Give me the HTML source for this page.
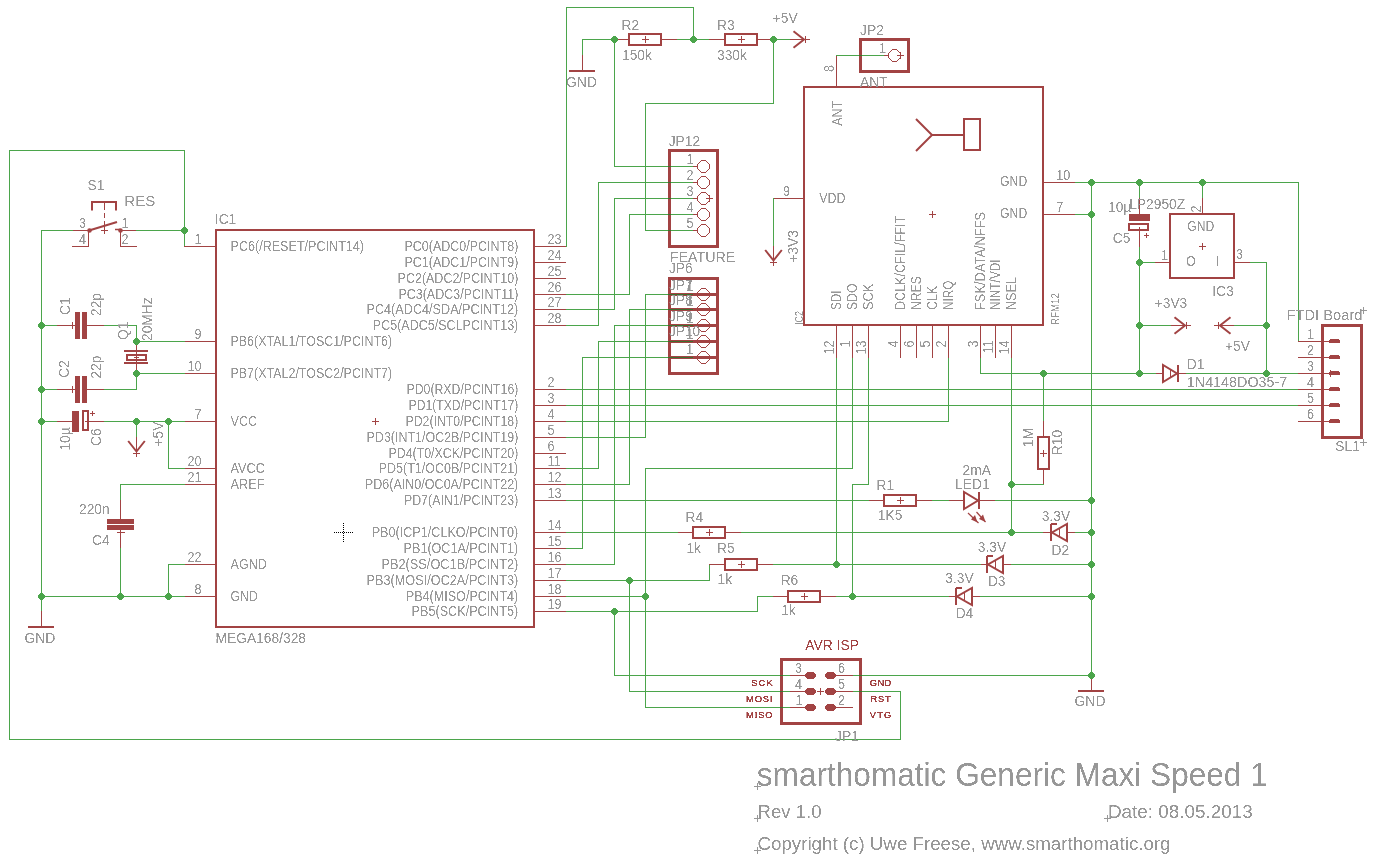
<!DOCTYPE html>
<html><head><meta charset="utf-8"><title>smarthomatic Generic Maxi Speed 1</title>
<style>
html,body{margin:0;padding:0;background:#fff;overflow:hidden;}
svg{display:block;}
text{font-family:"Liberation Sans",sans-serif;}
</style></head><body>
<svg width="1375" height="863" viewBox="0 0 1375 863">
<rect width="1375" height="863" fill="#fff"/>
<g shape-rendering="crispEdges">
<rect x="184" y="150" width="1" height="97" fill="#4ba54b"/>
<rect x="9" y="150" width="176" height="1" fill="#4ba54b"/>
<rect x="9" y="150" width="1" height="590" fill="#4ba54b"/>
<rect x="9" y="739" width="892" height="1" fill="#4ba54b"/>
<rect x="900" y="691" width="1" height="49" fill="#4ba54b"/>
<rect x="852" y="691" width="49" height="1" fill="#4ba54b"/>
<rect x="41" y="230" width="1" height="367" fill="#4ba54b"/>
<rect x="41" y="230" width="33" height="1" fill="#4ba54b"/>
<rect x="73" y="230" width="17" height="1" fill="#a24343"/>
<rect x="88" y="230" width="1" height="17" fill="#a24343"/>
<rect x="72" y="246" width="17" height="1" fill="#a24343"/>
<rect x="120" y="230" width="17" height="1" fill="#a24343"/>
<rect x="120" y="230" width="1" height="17" fill="#a24343"/>
<rect x="120" y="246" width="17" height="1" fill="#a24343"/>
<rect x="136" y="230" width="49" height="1" fill="#4ba54b"/>
<rect x="101" y="230" width="7" height="1" fill="#a24343"/>
<rect x="104" y="227" width="1" height="7" fill="#a24343"/>
<rect x="216" y="230" width="318" height="397" fill="none" stroke="#a24343" stroke-width="2"/>
<rect x="372" y="421" width="7" height="1" fill="#a24343"/>
<rect x="375" y="418" width="1" height="7" fill="#a24343"/>
<rect x="184" y="246" width="31" height="1" fill="#a24343"/>
<rect x="184" y="341" width="31" height="1" fill="#a24343"/>
<rect x="184" y="373" width="31" height="1" fill="#a24343"/>
<rect x="184" y="421" width="31" height="1" fill="#a24343"/>
<rect x="184" y="468" width="31" height="1" fill="#a24343"/>
<rect x="184" y="484" width="31" height="1" fill="#a24343"/>
<rect x="184" y="564" width="31" height="1" fill="#a24343"/>
<rect x="184" y="596" width="31" height="1" fill="#a24343"/>
<rect x="535" y="246" width="31" height="1" fill="#a24343"/>
<rect x="535" y="262" width="31" height="1" fill="#a24343"/>
<rect x="535" y="278" width="31" height="1" fill="#a24343"/>
<rect x="535" y="294" width="31" height="1" fill="#a24343"/>
<rect x="535" y="309" width="31" height="1" fill="#a24343"/>
<rect x="535" y="325" width="31" height="1" fill="#a24343"/>
<rect x="535" y="389" width="31" height="1" fill="#a24343"/>
<rect x="535" y="405" width="31" height="1" fill="#a24343"/>
<rect x="535" y="421" width="31" height="1" fill="#a24343"/>
<rect x="535" y="437" width="31" height="1" fill="#a24343"/>
<rect x="535" y="453" width="31" height="1" fill="#a24343"/>
<rect x="535" y="468" width="31" height="1" fill="#a24343"/>
<rect x="535" y="484" width="31" height="1" fill="#a24343"/>
<rect x="535" y="500" width="31" height="1" fill="#a24343"/>
<rect x="535" y="532" width="31" height="1" fill="#a24343"/>
<rect x="535" y="548" width="31" height="1" fill="#a24343"/>
<rect x="535" y="564" width="31" height="1" fill="#a24343"/>
<rect x="535" y="580" width="31" height="1" fill="#a24343"/>
<rect x="535" y="596" width="31" height="1" fill="#a24343"/>
<rect x="535" y="611" width="31" height="1" fill="#a24343"/>
<rect x="41" y="325" width="17" height="1" fill="#4ba54b"/>
<rect x="57" y="325" width="18" height="1" fill="#a24343"/>
<rect x="75" y="312" width="5" height="27" fill="#a24343"/>
<rect x="82" y="312" width="5" height="27" fill="#a24343"/>
<rect x="72" y="322" width="1" height="7" fill="#a24343"/>
<rect x="87" y="325" width="18" height="1" fill="#a24343"/>
<rect x="104" y="325" width="33" height="1" fill="#4ba54b"/>
<rect x="136" y="325" width="1" height="17" fill="#4ba54b"/>
<rect x="136" y="341" width="49" height="1" fill="#4ba54b"/>
<rect x="136" y="341" width="1" height="33" fill="#a24343"/>
<rect x="124" y="350" width="24" height="2" fill="#a24343"/>
<rect x="124" y="362" width="24" height="2" fill="#a24343"/>
<rect x="127" y="355" width="19" height="5" fill="none" stroke="#a24343" stroke-width="2"/>
<rect x="134" y="357" width="5" height="1" fill="#a24343"/>
<rect x="136" y="355" width="1" height="5" fill="#a24343"/>
<rect x="136" y="373" width="49" height="1" fill="#4ba54b"/>
<rect x="41" y="389" width="17" height="1" fill="#4ba54b"/>
<rect x="57" y="389" width="18" height="1" fill="#a24343"/>
<rect x="75" y="376" width="5" height="27" fill="#a24343"/>
<rect x="82" y="376" width="5" height="27" fill="#a24343"/>
<rect x="72" y="386" width="1" height="7" fill="#a24343"/>
<rect x="87" y="389" width="18" height="1" fill="#a24343"/>
<rect x="104" y="389" width="33" height="1" fill="#4ba54b"/>
<rect x="136" y="373" width="1" height="17" fill="#4ba54b"/>
<rect x="41" y="421" width="17" height="1" fill="#4ba54b"/>
<rect x="57" y="421" width="15" height="1" fill="#a24343"/>
<rect x="72" y="411" width="7" height="21" fill="#a24343"/>
<rect x="83" y="411" width="5" height="19" fill="none" stroke="#a24343" stroke-width="2"/>
<rect x="85" y="421" width="20" height="1" fill="#a24343"/>
<rect x="90" y="413" width="5" height="1" fill="#a24343"/>
<rect x="92" y="411" width="1" height="5" fill="#a24343"/>
<rect x="104" y="421" width="81" height="1" fill="#4ba54b"/>
<rect x="136" y="421" width="1" height="16" fill="#4ba54b"/>
<rect x="136" y="437" width="1" height="20" fill="#a24343"/>
<rect x="133" y="453" width="7" height="1" fill="#a24343"/>
<rect x="168" y="421" width="1" height="48" fill="#4ba54b"/>
<rect x="168" y="468" width="17" height="1" fill="#4ba54b"/>
<rect x="120" y="484" width="65" height="1" fill="#4ba54b"/>
<rect x="120" y="484" width="1" height="17" fill="#4ba54b"/>
<rect x="120" y="500" width="1" height="19" fill="#a24343"/>
<rect x="107" y="519" width="27" height="5" fill="#a24343"/>
<rect x="107" y="525" width="27" height="5" fill="#a24343"/>
<rect x="120" y="530" width="1" height="18" fill="#a24343"/>
<rect x="117" y="532" width="8" height="1" fill="#a24343"/>
<rect x="120" y="548" width="1" height="49" fill="#4ba54b"/>
<rect x="168" y="564" width="17" height="1" fill="#4ba54b"/>
<rect x="168" y="564" width="1" height="33" fill="#4ba54b"/>
<rect x="41" y="596" width="144" height="1" fill="#4ba54b"/>
<rect x="41" y="596" width="1" height="16" fill="#4ba54b"/>
<rect x="41" y="611" width="1" height="17" fill="#a24343"/>
<rect x="28" y="626" width="26" height="2" fill="#a24343"/>
<rect x="566" y="7" width="1" height="240" fill="#4ba54b"/>
<rect x="566" y="7" width="128" height="1" fill="#4ba54b"/>
<rect x="693" y="7" width="1" height="33" fill="#4ba54b"/>
<rect x="582" y="39" width="1" height="17" fill="#4ba54b"/>
<rect x="582" y="39" width="33" height="1" fill="#4ba54b"/>
<rect x="582" y="55" width="1" height="17" fill="#a24343"/>
<rect x="569" y="70" width="26" height="2" fill="#a24343"/>
<rect x="614" y="39" width="15" height="1" fill="#a24343"/>
<rect x="629" y="34" width="32" height="11" fill="none" stroke="#a24343" stroke-width="2"/>
<rect x="642" y="39" width="7" height="1" fill="#a24343"/>
<rect x="645" y="36" width="1" height="7" fill="#a24343"/>
<rect x="662" y="39" width="16" height="1" fill="#a24343"/>
<rect x="677" y="39" width="33" height="1" fill="#4ba54b"/>
<rect x="709" y="39" width="16" height="1" fill="#a24343"/>
<rect x="725" y="34" width="32" height="11" fill="none" stroke="#a24343" stroke-width="2"/>
<rect x="738" y="39" width="7" height="1" fill="#a24343"/>
<rect x="741" y="36" width="1" height="7" fill="#a24343"/>
<rect x="758" y="39" width="16" height="1" fill="#a24343"/>
<rect x="773" y="39" width="17" height="1" fill="#4ba54b"/>
<rect x="790" y="39" width="20" height="1" fill="#a24343"/>
<rect x="805" y="36" width="1" height="7" fill="#a24343"/>
<rect x="773" y="39" width="1" height="65" fill="#4ba54b"/>
<rect x="645" y="103" width="129" height="1" fill="#4ba54b"/>
<rect x="645" y="103" width="1" height="128" fill="#4ba54b"/>
<rect x="645" y="230" width="48" height="1" fill="#4ba54b"/>
<rect x="614" y="39" width="1" height="128" fill="#4ba54b"/>
<rect x="614" y="166" width="79" height="1" fill="#4ba54b"/>
<rect x="669.5" y="150.5" width="48" height="96" fill="none" stroke="#a24343" stroke-width="3"/>
<rect x="693" y="166" width="4" height="1" fill="#a24343"/>
<rect x="701" y="160" width="5" height="1" fill="#a24343"/>
<rect x="701" y="172" width="5" height="1" fill="#a24343"/>
<rect x="697" y="164" width="1" height="5" fill="#a24343"/>
<rect x="709" y="164" width="1" height="5" fill="#a24343"/>
<rect x="700" y="161" width="1" height="1" fill="#a24343"/>
<rect x="700" y="171" width="1" height="1" fill="#a24343"/>
<rect x="706" y="161" width="1" height="1" fill="#a24343"/>
<rect x="706" y="171" width="1" height="1" fill="#a24343"/>
<rect x="699" y="162" width="1" height="1" fill="#a24343"/>
<rect x="699" y="170" width="1" height="1" fill="#a24343"/>
<rect x="707" y="162" width="1" height="1" fill="#a24343"/>
<rect x="707" y="170" width="1" height="1" fill="#a24343"/>
<rect x="698" y="163" width="1" height="1" fill="#a24343"/>
<rect x="698" y="169" width="1" height="1" fill="#a24343"/>
<rect x="708" y="163" width="1" height="1" fill="#a24343"/>
<rect x="708" y="169" width="1" height="1" fill="#a24343"/>
<rect x="693" y="182" width="4" height="1" fill="#a24343"/>
<rect x="701" y="176" width="5" height="1" fill="#a24343"/>
<rect x="701" y="188" width="5" height="1" fill="#a24343"/>
<rect x="697" y="180" width="1" height="5" fill="#a24343"/>
<rect x="709" y="180" width="1" height="5" fill="#a24343"/>
<rect x="700" y="177" width="1" height="1" fill="#a24343"/>
<rect x="700" y="187" width="1" height="1" fill="#a24343"/>
<rect x="706" y="177" width="1" height="1" fill="#a24343"/>
<rect x="706" y="187" width="1" height="1" fill="#a24343"/>
<rect x="699" y="178" width="1" height="1" fill="#a24343"/>
<rect x="699" y="186" width="1" height="1" fill="#a24343"/>
<rect x="707" y="178" width="1" height="1" fill="#a24343"/>
<rect x="707" y="186" width="1" height="1" fill="#a24343"/>
<rect x="698" y="179" width="1" height="1" fill="#a24343"/>
<rect x="698" y="185" width="1" height="1" fill="#a24343"/>
<rect x="708" y="179" width="1" height="1" fill="#a24343"/>
<rect x="708" y="185" width="1" height="1" fill="#a24343"/>
<rect x="693" y="198" width="4" height="1" fill="#a24343"/>
<rect x="701" y="192" width="5" height="1" fill="#a24343"/>
<rect x="701" y="204" width="5" height="1" fill="#a24343"/>
<rect x="697" y="196" width="1" height="5" fill="#a24343"/>
<rect x="709" y="196" width="1" height="5" fill="#a24343"/>
<rect x="700" y="193" width="1" height="1" fill="#a24343"/>
<rect x="700" y="203" width="1" height="1" fill="#a24343"/>
<rect x="706" y="193" width="1" height="1" fill="#a24343"/>
<rect x="706" y="203" width="1" height="1" fill="#a24343"/>
<rect x="699" y="194" width="1" height="1" fill="#a24343"/>
<rect x="699" y="202" width="1" height="1" fill="#a24343"/>
<rect x="707" y="194" width="1" height="1" fill="#a24343"/>
<rect x="707" y="202" width="1" height="1" fill="#a24343"/>
<rect x="698" y="195" width="1" height="1" fill="#a24343"/>
<rect x="698" y="201" width="1" height="1" fill="#a24343"/>
<rect x="708" y="195" width="1" height="1" fill="#a24343"/>
<rect x="708" y="201" width="1" height="1" fill="#a24343"/>
<rect x="693" y="214" width="4" height="1" fill="#a24343"/>
<rect x="701" y="208" width="5" height="1" fill="#a24343"/>
<rect x="701" y="220" width="5" height="1" fill="#a24343"/>
<rect x="697" y="212" width="1" height="5" fill="#a24343"/>
<rect x="709" y="212" width="1" height="5" fill="#a24343"/>
<rect x="700" y="209" width="1" height="1" fill="#a24343"/>
<rect x="700" y="219" width="1" height="1" fill="#a24343"/>
<rect x="706" y="209" width="1" height="1" fill="#a24343"/>
<rect x="706" y="219" width="1" height="1" fill="#a24343"/>
<rect x="699" y="210" width="1" height="1" fill="#a24343"/>
<rect x="699" y="218" width="1" height="1" fill="#a24343"/>
<rect x="707" y="210" width="1" height="1" fill="#a24343"/>
<rect x="707" y="218" width="1" height="1" fill="#a24343"/>
<rect x="698" y="211" width="1" height="1" fill="#a24343"/>
<rect x="698" y="217" width="1" height="1" fill="#a24343"/>
<rect x="708" y="211" width="1" height="1" fill="#a24343"/>
<rect x="708" y="217" width="1" height="1" fill="#a24343"/>
<rect x="693" y="230" width="4" height="1" fill="#a24343"/>
<rect x="701" y="224" width="5" height="1" fill="#a24343"/>
<rect x="701" y="236" width="5" height="1" fill="#a24343"/>
<rect x="697" y="228" width="1" height="5" fill="#a24343"/>
<rect x="709" y="228" width="1" height="5" fill="#a24343"/>
<rect x="700" y="225" width="1" height="1" fill="#a24343"/>
<rect x="700" y="235" width="1" height="1" fill="#a24343"/>
<rect x="706" y="225" width="1" height="1" fill="#a24343"/>
<rect x="706" y="235" width="1" height="1" fill="#a24343"/>
<rect x="699" y="226" width="1" height="1" fill="#a24343"/>
<rect x="699" y="234" width="1" height="1" fill="#a24343"/>
<rect x="707" y="226" width="1" height="1" fill="#a24343"/>
<rect x="707" y="234" width="1" height="1" fill="#a24343"/>
<rect x="698" y="227" width="1" height="1" fill="#a24343"/>
<rect x="698" y="233" width="1" height="1" fill="#a24343"/>
<rect x="708" y="227" width="1" height="1" fill="#a24343"/>
<rect x="708" y="233" width="1" height="1" fill="#a24343"/>
<rect x="706" y="198" width="7" height="1" fill="#a24343"/>
<rect x="709" y="195" width="1" height="7" fill="#a24343"/>
<rect x="566" y="325" width="33" height="1" fill="#4ba54b"/>
<rect x="598" y="182" width="1" height="144" fill="#4ba54b"/>
<rect x="598" y="182" width="95" height="1" fill="#4ba54b"/>
<rect x="566" y="309" width="49" height="1" fill="#4ba54b"/>
<rect x="614" y="198" width="1" height="112" fill="#4ba54b"/>
<rect x="614" y="198" width="79" height="1" fill="#4ba54b"/>
<rect x="566" y="294" width="64" height="1" fill="#4ba54b"/>
<rect x="629" y="214" width="1" height="81" fill="#4ba54b"/>
<rect x="629" y="214" width="64" height="1" fill="#4ba54b"/>
<rect x="669.5" y="278.5" width="48" height="95" fill="none" stroke="#a24343" stroke-width="3"/>
<rect x="668" y="293" width="51" height="3" fill="#a24343"/>
<rect x="668" y="308" width="51" height="3" fill="#a24343"/>
<rect x="668" y="324" width="51" height="3" fill="#a24343"/>
<rect x="668" y="340" width="51" height="3" fill="#a24343"/>
<rect x="668" y="356" width="51" height="3" fill="#a24343"/>
<rect x="566" y="437" width="80" height="1" fill="#4ba54b"/>
<rect x="645" y="294" width="1" height="144" fill="#4ba54b"/>
<rect x="645" y="294" width="48" height="1" fill="#4ba54b"/>
<rect x="566" y="484" width="64" height="1" fill="#4ba54b"/>
<rect x="629" y="309" width="1" height="176" fill="#4ba54b"/>
<rect x="629" y="309" width="64" height="1" fill="#4ba54b"/>
<rect x="566" y="564" width="49" height="1" fill="#4ba54b"/>
<rect x="614" y="325" width="1" height="240" fill="#4ba54b"/>
<rect x="614" y="325" width="79" height="1" fill="#4ba54b"/>
<rect x="566" y="468" width="33" height="1" fill="#4ba54b"/>
<rect x="598" y="341" width="1" height="128" fill="#4ba54b"/>
<rect x="598" y="341" width="95" height="1" fill="#4ba54b"/>
<rect x="566" y="548" width="17" height="1" fill="#4ba54b"/>
<rect x="582" y="357" width="1" height="192" fill="#4ba54b"/>
<rect x="582" y="357" width="111" height="1" fill="#4ba54b"/>
<rect x="693" y="294" width="4" height="1" fill="#a24343"/>
<rect x="701" y="288" width="5" height="1" fill="#a24343"/>
<rect x="701" y="300" width="5" height="1" fill="#a24343"/>
<rect x="697" y="292" width="1" height="5" fill="#a24343"/>
<rect x="709" y="292" width="1" height="5" fill="#a24343"/>
<rect x="700" y="289" width="1" height="1" fill="#a24343"/>
<rect x="700" y="299" width="1" height="1" fill="#a24343"/>
<rect x="706" y="289" width="1" height="1" fill="#a24343"/>
<rect x="706" y="299" width="1" height="1" fill="#a24343"/>
<rect x="699" y="290" width="1" height="1" fill="#a24343"/>
<rect x="699" y="298" width="1" height="1" fill="#a24343"/>
<rect x="707" y="290" width="1" height="1" fill="#a24343"/>
<rect x="707" y="298" width="1" height="1" fill="#a24343"/>
<rect x="698" y="291" width="1" height="1" fill="#a24343"/>
<rect x="698" y="297" width="1" height="1" fill="#a24343"/>
<rect x="708" y="291" width="1" height="1" fill="#a24343"/>
<rect x="708" y="297" width="1" height="1" fill="#a24343"/>
<rect x="668" y="294" width="25" height="1" fill="#3f6e2e"/>
<rect x="693" y="309" width="4" height="1" fill="#a24343"/>
<rect x="701" y="303" width="5" height="1" fill="#a24343"/>
<rect x="701" y="315" width="5" height="1" fill="#a24343"/>
<rect x="697" y="307" width="1" height="5" fill="#a24343"/>
<rect x="709" y="307" width="1" height="5" fill="#a24343"/>
<rect x="700" y="304" width="1" height="1" fill="#a24343"/>
<rect x="700" y="314" width="1" height="1" fill="#a24343"/>
<rect x="706" y="304" width="1" height="1" fill="#a24343"/>
<rect x="706" y="314" width="1" height="1" fill="#a24343"/>
<rect x="699" y="305" width="1" height="1" fill="#a24343"/>
<rect x="699" y="313" width="1" height="1" fill="#a24343"/>
<rect x="707" y="305" width="1" height="1" fill="#a24343"/>
<rect x="707" y="313" width="1" height="1" fill="#a24343"/>
<rect x="698" y="306" width="1" height="1" fill="#a24343"/>
<rect x="698" y="312" width="1" height="1" fill="#a24343"/>
<rect x="708" y="306" width="1" height="1" fill="#a24343"/>
<rect x="708" y="312" width="1" height="1" fill="#a24343"/>
<rect x="668" y="309" width="25" height="1" fill="#3f6e2e"/>
<rect x="693" y="325" width="4" height="1" fill="#a24343"/>
<rect x="701" y="319" width="5" height="1" fill="#a24343"/>
<rect x="701" y="331" width="5" height="1" fill="#a24343"/>
<rect x="697" y="323" width="1" height="5" fill="#a24343"/>
<rect x="709" y="323" width="1" height="5" fill="#a24343"/>
<rect x="700" y="320" width="1" height="1" fill="#a24343"/>
<rect x="700" y="330" width="1" height="1" fill="#a24343"/>
<rect x="706" y="320" width="1" height="1" fill="#a24343"/>
<rect x="706" y="330" width="1" height="1" fill="#a24343"/>
<rect x="699" y="321" width="1" height="1" fill="#a24343"/>
<rect x="699" y="329" width="1" height="1" fill="#a24343"/>
<rect x="707" y="321" width="1" height="1" fill="#a24343"/>
<rect x="707" y="329" width="1" height="1" fill="#a24343"/>
<rect x="698" y="322" width="1" height="1" fill="#a24343"/>
<rect x="698" y="328" width="1" height="1" fill="#a24343"/>
<rect x="708" y="322" width="1" height="1" fill="#a24343"/>
<rect x="708" y="328" width="1" height="1" fill="#a24343"/>
<rect x="668" y="325" width="25" height="1" fill="#3f6e2e"/>
<rect x="693" y="341" width="4" height="1" fill="#a24343"/>
<rect x="701" y="335" width="5" height="1" fill="#a24343"/>
<rect x="701" y="347" width="5" height="1" fill="#a24343"/>
<rect x="697" y="339" width="1" height="5" fill="#a24343"/>
<rect x="709" y="339" width="1" height="5" fill="#a24343"/>
<rect x="700" y="336" width="1" height="1" fill="#a24343"/>
<rect x="700" y="346" width="1" height="1" fill="#a24343"/>
<rect x="706" y="336" width="1" height="1" fill="#a24343"/>
<rect x="706" y="346" width="1" height="1" fill="#a24343"/>
<rect x="699" y="337" width="1" height="1" fill="#a24343"/>
<rect x="699" y="345" width="1" height="1" fill="#a24343"/>
<rect x="707" y="337" width="1" height="1" fill="#a24343"/>
<rect x="707" y="345" width="1" height="1" fill="#a24343"/>
<rect x="698" y="338" width="1" height="1" fill="#a24343"/>
<rect x="698" y="344" width="1" height="1" fill="#a24343"/>
<rect x="708" y="338" width="1" height="1" fill="#a24343"/>
<rect x="708" y="344" width="1" height="1" fill="#a24343"/>
<rect x="668" y="341" width="25" height="1" fill="#3f6e2e"/>
<rect x="693" y="357" width="4" height="1" fill="#a24343"/>
<rect x="701" y="351" width="5" height="1" fill="#a24343"/>
<rect x="701" y="363" width="5" height="1" fill="#a24343"/>
<rect x="697" y="355" width="1" height="5" fill="#a24343"/>
<rect x="709" y="355" width="1" height="5" fill="#a24343"/>
<rect x="700" y="352" width="1" height="1" fill="#a24343"/>
<rect x="700" y="362" width="1" height="1" fill="#a24343"/>
<rect x="706" y="352" width="1" height="1" fill="#a24343"/>
<rect x="706" y="362" width="1" height="1" fill="#a24343"/>
<rect x="699" y="353" width="1" height="1" fill="#a24343"/>
<rect x="699" y="361" width="1" height="1" fill="#a24343"/>
<rect x="707" y="353" width="1" height="1" fill="#a24343"/>
<rect x="707" y="361" width="1" height="1" fill="#a24343"/>
<rect x="698" y="354" width="1" height="1" fill="#a24343"/>
<rect x="698" y="360" width="1" height="1" fill="#a24343"/>
<rect x="708" y="354" width="1" height="1" fill="#a24343"/>
<rect x="708" y="360" width="1" height="1" fill="#a24343"/>
<rect x="668" y="357" width="25" height="1" fill="#3f6e2e"/>
<rect x="566" y="389" width="732" height="1" fill="#4ba54b"/>
<rect x="1298" y="389" width="23" height="1" fill="#a24343"/>
<rect x="566" y="405" width="732" height="1" fill="#4ba54b"/>
<rect x="1298" y="405" width="23" height="1" fill="#a24343"/>
<rect x="566" y="421" width="383" height="1" fill="#4ba54b"/>
<rect x="948" y="358" width="1" height="64" fill="#4ba54b"/>
<rect x="566" y="500" width="303" height="1" fill="#4ba54b"/>
<rect x="869" y="500" width="15" height="1" fill="#a24343"/>
<rect x="884" y="495" width="32" height="11" fill="none" stroke="#a24343" stroke-width="2"/>
<rect x="897" y="500" width="7" height="1" fill="#a24343"/>
<rect x="900" y="497" width="1" height="7" fill="#a24343"/>
<rect x="917" y="500" width="16" height="1" fill="#a24343"/>
<rect x="932" y="500" width="17" height="1" fill="#4ba54b"/>
<rect x="949" y="500" width="14" height="1" fill="#a24343"/>
<rect x="978" y="492" width="2" height="17" fill="#a24343"/>
<rect x="980" y="500" width="16" height="1" fill="#a24343"/>
<rect x="995" y="500" width="97" height="1" fill="#4ba54b"/>
<rect x="566" y="532" width="112" height="1" fill="#4ba54b"/>
<rect x="678" y="532" width="15" height="1" fill="#a24343"/>
<rect x="693" y="527" width="32" height="11" fill="none" stroke="#a24343" stroke-width="2"/>
<rect x="706" y="532" width="7" height="1" fill="#a24343"/>
<rect x="709" y="529" width="1" height="7" fill="#a24343"/>
<rect x="726" y="532" width="16" height="1" fill="#a24343"/>
<rect x="741" y="532" width="303" height="1" fill="#4ba54b"/>
<rect x="1043" y="532" width="8" height="1" fill="#a24343"/>
<rect x="1050" y="524" width="2" height="17" fill="#a24343"/>
<rect x="1051" y="523" width="6" height="2" fill="#a24343"/>
<rect x="1059" y="529" width="1" height="7" fill="#a24343"/>
<rect x="1068" y="532" width="8" height="1" fill="#a24343"/>
<rect x="1075" y="532" width="17" height="1" fill="#4ba54b"/>
<rect x="566" y="580" width="144" height="1" fill="#4ba54b"/>
<rect x="709" y="564" width="1" height="17" fill="#4ba54b"/>
<rect x="709" y="564" width="16" height="1" fill="#a24343"/>
<rect x="725" y="559" width="32" height="11" fill="none" stroke="#a24343" stroke-width="2"/>
<rect x="738" y="564" width="7" height="1" fill="#a24343"/>
<rect x="741" y="561" width="1" height="7" fill="#a24343"/>
<rect x="758" y="564" width="16" height="1" fill="#a24343"/>
<rect x="773" y="564" width="208" height="1" fill="#4ba54b"/>
<rect x="981" y="564" width="6" height="1" fill="#a24343"/>
<rect x="986" y="556" width="2" height="17" fill="#a24343"/>
<rect x="987" y="555" width="6" height="2" fill="#a24343"/>
<rect x="995" y="561" width="1" height="7" fill="#a24343"/>
<rect x="1004" y="564" width="8" height="1" fill="#a24343"/>
<rect x="1011" y="564" width="81" height="1" fill="#4ba54b"/>
<rect x="566" y="611" width="192" height="1" fill="#4ba54b"/>
<rect x="757" y="596" width="1" height="16" fill="#4ba54b"/>
<rect x="757" y="596" width="17" height="1" fill="#4ba54b"/>
<rect x="773" y="596" width="15" height="1" fill="#a24343"/>
<rect x="788" y="591" width="32" height="11" fill="none" stroke="#a24343" stroke-width="2"/>
<rect x="801" y="596" width="7" height="1" fill="#a24343"/>
<rect x="804" y="593" width="1" height="7" fill="#a24343"/>
<rect x="821" y="596" width="16" height="1" fill="#a24343"/>
<rect x="836" y="596" width="113" height="1" fill="#4ba54b"/>
<rect x="949" y="596" width="7" height="1" fill="#a24343"/>
<rect x="955" y="588" width="2" height="17" fill="#a24343"/>
<rect x="956" y="587" width="6" height="2" fill="#a24343"/>
<rect x="964" y="593" width="1" height="7" fill="#a24343"/>
<rect x="973" y="596" width="8" height="1" fill="#a24343"/>
<rect x="980" y="596" width="112" height="1" fill="#4ba54b"/>
<rect x="566" y="596" width="80" height="1" fill="#4ba54b"/>
<rect x="645" y="468" width="1" height="240" fill="#4ba54b"/>
<rect x="645" y="468" width="208" height="1" fill="#4ba54b"/>
<rect x="852" y="358" width="1" height="111" fill="#4ba54b"/>
<rect x="629" y="580" width="1" height="112" fill="#4ba54b"/>
<rect x="629" y="691" width="161" height="1" fill="#4ba54b"/>
<rect x="614" y="611" width="1" height="65" fill="#4ba54b"/>
<rect x="614" y="675" width="176" height="1" fill="#4ba54b"/>
<rect x="836" y="358" width="1" height="207" fill="#4ba54b"/>
<rect x="868" y="358" width="1" height="127" fill="#4ba54b"/>
<rect x="852" y="484" width="17" height="1" fill="#4ba54b"/>
<rect x="852" y="484" width="1" height="113" fill="#4ba54b"/>
<rect x="645" y="707" width="145" height="1" fill="#4ba54b"/>
<rect x="781.5" y="659.5" width="79" height="64" fill="none" stroke="#a24343" stroke-width="3"/>
<rect x="790" y="675" width="16" height="1" fill="#a24343"/>
<rect x="807" y="672" width="7" height="1" fill="#a24343"/>
<rect x="807" y="678" width="7" height="1" fill="#a24343"/>
<rect x="806" y="673" width="9" height="1" fill="#a24343"/>
<rect x="806" y="677" width="9" height="1" fill="#a24343"/>
<rect x="805" y="674" width="11" height="3" fill="#a24343"/>
<rect x="827" y="672" width="7" height="1" fill="#a24343"/>
<rect x="827" y="678" width="7" height="1" fill="#a24343"/>
<rect x="826" y="673" width="9" height="1" fill="#a24343"/>
<rect x="826" y="677" width="9" height="1" fill="#a24343"/>
<rect x="825" y="674" width="11" height="3" fill="#a24343"/>
<rect x="836" y="675" width="17" height="1" fill="#a24343"/>
<rect x="790" y="691" width="16" height="1" fill="#a24343"/>
<rect x="807" y="688" width="7" height="1" fill="#a24343"/>
<rect x="807" y="694" width="7" height="1" fill="#a24343"/>
<rect x="806" y="689" width="9" height="1" fill="#a24343"/>
<rect x="806" y="693" width="9" height="1" fill="#a24343"/>
<rect x="805" y="690" width="11" height="3" fill="#a24343"/>
<rect x="827" y="688" width="7" height="1" fill="#a24343"/>
<rect x="827" y="694" width="7" height="1" fill="#a24343"/>
<rect x="826" y="689" width="9" height="1" fill="#a24343"/>
<rect x="826" y="693" width="9" height="1" fill="#a24343"/>
<rect x="825" y="690" width="11" height="3" fill="#a24343"/>
<rect x="836" y="691" width="17" height="1" fill="#a24343"/>
<rect x="790" y="707" width="16" height="1" fill="#a24343"/>
<rect x="807" y="704" width="7" height="1" fill="#a24343"/>
<rect x="807" y="710" width="7" height="1" fill="#a24343"/>
<rect x="806" y="705" width="9" height="1" fill="#a24343"/>
<rect x="806" y="709" width="9" height="1" fill="#a24343"/>
<rect x="805" y="706" width="11" height="3" fill="#a24343"/>
<rect x="827" y="704" width="7" height="1" fill="#a24343"/>
<rect x="827" y="710" width="7" height="1" fill="#a24343"/>
<rect x="826" y="705" width="9" height="1" fill="#a24343"/>
<rect x="826" y="709" width="9" height="1" fill="#a24343"/>
<rect x="825" y="706" width="11" height="3" fill="#a24343"/>
<rect x="836" y="707" width="17" height="1" fill="#a24343"/>
<rect x="817" y="691" width="7" height="1" fill="#a24343"/>
<rect x="820" y="688" width="1" height="7" fill="#a24343"/>
<rect x="853" y="675" width="239" height="1" fill="#4ba54b"/>
<rect x="853" y="691" width="48" height="1" fill="#4ba54b"/>
<rect x="1091" y="182" width="1" height="494" fill="#4ba54b"/>
<rect x="1091" y="676" width="1" height="16" fill="#a24343"/>
<rect x="1078" y="690" width="26" height="2" fill="#a24343"/>
<rect x="804" y="87" width="239" height="238" fill="none" stroke="#a24343" stroke-width="2"/>
<rect x="929" y="214" width="7" height="1" fill="#a24343"/>
<rect x="932" y="211" width="1" height="7" fill="#a24343"/>
<rect x="964" y="119" width="16" height="31" fill="none" stroke="#a24343" stroke-width="2"/>
<rect x="836" y="55" width="1" height="31" fill="#a24343"/>
<rect x="836" y="55" width="48" height="1" fill="#4ba54b"/>
<rect x="774" y="198" width="29" height="1" fill="#a24343"/>
<rect x="773" y="198" width="1" height="48" fill="#4ba54b"/>
<rect x="773" y="246" width="1" height="20" fill="#a24343"/>
<rect x="770" y="262" width="7" height="1" fill="#a24343"/>
<rect x="1044" y="182" width="32" height="1" fill="#a24343"/>
<rect x="1044" y="214" width="32" height="1" fill="#a24343"/>
<rect x="1075" y="182" width="224" height="1" fill="#4ba54b"/>
<rect x="1298" y="182" width="1" height="159" fill="#4ba54b"/>
<rect x="1298" y="341" width="23" height="1" fill="#a24343"/>
<rect x="1075" y="214" width="17" height="1" fill="#4ba54b"/>
<rect x="836" y="326" width="1" height="32" fill="#a24343"/>
<rect x="852" y="326" width="1" height="32" fill="#a24343"/>
<rect x="868" y="326" width="1" height="32" fill="#a24343"/>
<rect x="900" y="326" width="1" height="32" fill="#a24343"/>
<rect x="916" y="326" width="1" height="32" fill="#a24343"/>
<rect x="932" y="326" width="1" height="32" fill="#a24343"/>
<rect x="948" y="326" width="1" height="32" fill="#a24343"/>
<rect x="980" y="326" width="1" height="32" fill="#a24343"/>
<rect x="995" y="326" width="1" height="32" fill="#a24343"/>
<rect x="1011" y="326" width="1" height="32" fill="#a24343"/>
<rect x="980" y="358" width="1" height="16" fill="#4ba54b"/>
<rect x="980" y="373" width="176" height="1" fill="#4ba54b"/>
<rect x="1156" y="373" width="7" height="1" fill="#a24343"/>
<rect x="1177" y="365" width="2" height="17" fill="#a24343"/>
<rect x="1179" y="373" width="8" height="1" fill="#a24343"/>
<rect x="1170" y="370" width="1" height="7" fill="#a24343"/>
<rect x="1186" y="373" width="112" height="1" fill="#4ba54b"/>
<rect x="1298" y="373" width="23" height="1" fill="#a24343"/>
<rect x="1011" y="358" width="1" height="175" fill="#4ba54b"/>
<rect x="1043" y="373" width="1" height="48" fill="#4ba54b"/>
<rect x="1043" y="421" width="1" height="16" fill="#a24343"/>
<rect x="1038" y="437" width="11" height="32" fill="none" stroke="#a24343" stroke-width="2"/>
<rect x="1040" y="453" width="7" height="1" fill="#a24343"/>
<rect x="1043" y="450" width="1" height="7" fill="#a24343"/>
<rect x="1043" y="469" width="1" height="16" fill="#a24343"/>
<rect x="1011" y="484" width="33" height="1" fill="#4ba54b"/>
<rect x="860.5" y="39.5" width="48" height="32" fill="none" stroke="#a24343" stroke-width="3"/>
<rect x="884" y="55" width="4" height="1" fill="#a24343"/>
<rect x="892" y="49" width="5" height="1" fill="#a24343"/>
<rect x="892" y="61" width="5" height="1" fill="#a24343"/>
<rect x="888" y="53" width="1" height="5" fill="#a24343"/>
<rect x="900" y="53" width="1" height="5" fill="#a24343"/>
<rect x="891" y="50" width="1" height="1" fill="#a24343"/>
<rect x="891" y="60" width="1" height="1" fill="#a24343"/>
<rect x="897" y="50" width="1" height="1" fill="#a24343"/>
<rect x="897" y="60" width="1" height="1" fill="#a24343"/>
<rect x="890" y="51" width="1" height="1" fill="#a24343"/>
<rect x="890" y="59" width="1" height="1" fill="#a24343"/>
<rect x="898" y="51" width="1" height="1" fill="#a24343"/>
<rect x="898" y="59" width="1" height="1" fill="#a24343"/>
<rect x="889" y="52" width="1" height="1" fill="#a24343"/>
<rect x="889" y="58" width="1" height="1" fill="#a24343"/>
<rect x="899" y="52" width="1" height="1" fill="#a24343"/>
<rect x="899" y="58" width="1" height="1" fill="#a24343"/>
<rect x="897" y="55" width="7" height="1" fill="#a24343"/>
<rect x="900" y="52" width="1" height="7" fill="#a24343"/>
<rect x="1139" y="182" width="1" height="16" fill="#4ba54b"/>
<rect x="1139" y="198" width="1" height="16" fill="#a24343"/>
<rect x="1129" y="214" width="21" height="7" fill="#a24343"/>
<rect x="1129" y="224" width="19" height="6" fill="none" stroke="#a24343" stroke-width="2"/>
<rect x="1139" y="227" width="1" height="20" fill="#a24343"/>
<rect x="1144" y="235" width="5" height="1" fill="#a24343"/>
<rect x="1146" y="233" width="1" height="5" fill="#a24343"/>
<rect x="1139" y="247" width="1" height="127" fill="#4ba54b"/>
<rect x="1170" y="214" width="64" height="64" fill="none" stroke="#a24343" stroke-width="2"/>
<rect x="1202" y="182" width="1" height="16" fill="#4ba54b"/>
<rect x="1202" y="198" width="1" height="15" fill="#a24343"/>
<rect x="1139" y="262" width="17" height="1" fill="#4ba54b"/>
<rect x="1155" y="262" width="14" height="1" fill="#a24343"/>
<rect x="1235" y="262" width="16" height="1" fill="#a24343"/>
<rect x="1250" y="262" width="17" height="1" fill="#4ba54b"/>
<rect x="1266" y="262" width="1" height="112" fill="#4ba54b"/>
<rect x="1199" y="246" width="7" height="1" fill="#a24343"/>
<rect x="1202" y="243" width="1" height="7" fill="#a24343"/>
<rect x="1139" y="325" width="32" height="1" fill="#4ba54b"/>
<rect x="1171" y="325" width="20" height="1" fill="#a24343"/>
<rect x="1186" y="322" width="1" height="7" fill="#a24343"/>
<rect x="1234" y="325" width="33" height="1" fill="#4ba54b"/>
<rect x="1214" y="325" width="20" height="1" fill="#a24343"/>
<rect x="1218" y="322" width="1" height="7" fill="#a24343"/>
<rect x="1322.5" y="325.5" width="39" height="112" fill="none" stroke="#a24343" stroke-width="3"/>
<rect x="1323" y="341" width="7" height="1" fill="#a24343"/>
<rect x="1330" y="339" width="9" height="1" fill="#a24343"/>
<rect x="1329" y="340" width="11" height="3" fill="#a24343"/>
<rect x="1298" y="357" width="23" height="1" fill="#a24343"/>
<rect x="1323" y="357" width="7" height="1" fill="#a24343"/>
<rect x="1330" y="355" width="9" height="1" fill="#a24343"/>
<rect x="1329" y="356" width="11" height="3" fill="#a24343"/>
<rect x="1323" y="373" width="7" height="1" fill="#a24343"/>
<rect x="1330" y="371" width="9" height="1" fill="#a24343"/>
<rect x="1329" y="372" width="11" height="3" fill="#a24343"/>
<rect x="1323" y="389" width="7" height="1" fill="#a24343"/>
<rect x="1330" y="387" width="9" height="1" fill="#a24343"/>
<rect x="1329" y="388" width="11" height="3" fill="#a24343"/>
<rect x="1323" y="405" width="7" height="1" fill="#a24343"/>
<rect x="1330" y="403" width="9" height="1" fill="#a24343"/>
<rect x="1329" y="404" width="11" height="3" fill="#a24343"/>
<rect x="1298" y="421" width="23" height="1" fill="#a24343"/>
<rect x="1323" y="421" width="7" height="1" fill="#a24343"/>
<rect x="1330" y="419" width="9" height="1" fill="#a24343"/>
<rect x="1329" y="420" width="11" height="3" fill="#a24343"/>
<rect x="1330" y="370" width="1" height="7" fill="#a24343"/>
<rect x="1360" y="310" width="7" height="1" fill="#979797"/>
<rect x="1363" y="307" width="1" height="7" fill="#979797"/>
<rect x="1360" y="442" width="7" height="1" fill="#979797"/>
<rect x="1363" y="439" width="1" height="7" fill="#979797"/>
<rect x="668" y="166" width="3" height="1" fill="#3f6e2e"/>
<rect x="668" y="182" width="3" height="1" fill="#3f6e2e"/>
<rect x="668" y="198" width="3" height="1" fill="#3f6e2e"/>
<rect x="668" y="214" width="3" height="1" fill="#3f6e2e"/>
<rect x="668" y="230" width="3" height="1" fill="#3f6e2e"/>
<rect x="859" y="55" width="3" height="1" fill="#3f6e2e"/>
<rect x="780" y="675" width="3" height="1" fill="#3f6e2e"/>
<rect x="780" y="691" width="3" height="1" fill="#3f6e2e"/>
<rect x="780" y="707" width="3" height="1" fill="#3f6e2e"/>
<rect x="859" y="675" width="3" height="1" fill="#3f6e2e"/>
<rect x="859" y="691" width="3" height="1" fill="#3f6e2e"/>
<rect x="334" y="532" width="1" height="1" fill="#000"/>
<rect x="336" y="532" width="1" height="1" fill="#000"/>
<rect x="338" y="532" width="1" height="1" fill="#000"/>
<rect x="340" y="532" width="1" height="1" fill="#000"/>
<rect x="342" y="532" width="1" height="1" fill="#000"/>
<rect x="344" y="532" width="1" height="1" fill="#000"/>
<rect x="346" y="532" width="1" height="1" fill="#000"/>
<rect x="348" y="532" width="1" height="1" fill="#000"/>
<rect x="350" y="532" width="1" height="1" fill="#000"/>
<rect x="352" y="532" width="1" height="1" fill="#000"/>
<rect x="343" y="523" width="1" height="1" fill="#000"/>
<rect x="343" y="525" width="1" height="1" fill="#000"/>
<rect x="343" y="527" width="1" height="1" fill="#000"/>
<rect x="343" y="529" width="1" height="1" fill="#000"/>
<rect x="343" y="531" width="1" height="1" fill="#000"/>
<rect x="343" y="533" width="1" height="1" fill="#000"/>
<rect x="343" y="535" width="1" height="1" fill="#000"/>
<rect x="343" y="537" width="1" height="1" fill="#000"/>
<rect x="343" y="539" width="1" height="1" fill="#000"/>
<rect x="343" y="541" width="1" height="1" fill="#000"/>
<rect x="754" y="786" width="7" height="1" fill="#979797"/>
<rect x="757" y="783" width="1" height="7" fill="#979797"/>
<rect x="754" y="818" width="7" height="1" fill="#979797"/>
<rect x="757" y="815" width="1" height="7" fill="#979797"/>
<rect x="754" y="850" width="7" height="1" fill="#979797"/>
<rect x="757" y="847" width="1" height="7" fill="#979797"/>
<rect x="1104" y="818" width="7" height="1" fill="#979797"/>
<rect x="1107" y="815" width="1" height="7" fill="#979797"/>
</g>
<g>
<line x1="89" y1="230.5" x2="117" y2="222" stroke="#a24343" stroke-width="2" />
<line x1="115" y1="229.5" x2="120" y2="229.5" stroke="#a24343" stroke-width="1.5" />
<circle cx="89.5" cy="230.5" r="2.3" fill="#a24343"/>
<circle cx="120.5" cy="230.5" r="2.3" fill="#a24343"/>
<polyline points="92,210.5 92,202 116,202 116,210.5" fill="none" stroke="#a24343" stroke-width="2" stroke-linejoin="miter"/>
<line x1="104.5" y1="202" x2="104.5" y2="234" stroke="#a24343" stroke-width="1" stroke-dasharray="8,3,5,3,6,3"/>
<polyline points="128.2,441.0 136.5,451.5 144.8,441.0" fill="none" stroke="#a24343" stroke-width="2" stroke-linejoin="miter"/>
<polyline points="793.5,31.2 804.0,39.5 793.5,47.8" fill="none" stroke="#a24343" stroke-width="2" stroke-linejoin="miter"/>
<polygon points="964,492 964,509 978,500.5" fill="none" stroke="#a24343" stroke-width="2" stroke-linejoin="miter"/>
<line x1="968" y1="513" x2="978.5" y2="523" stroke="#a24343" stroke-width="1.2" />
<polygon points="977.5,522.5 971,519.5 975,515" fill="#a24343"/>
<line x1="976.5" y1="512" x2="985.5" y2="522" stroke="#a24343" stroke-width="1.2" />
<polygon points="985.5,522 979,519 983,514.5" fill="#a24343"/>
<polygon points="1067,524 1067,541 1052,532.5" fill="none" stroke="#a24343" stroke-width="2" stroke-linejoin="miter"/>
<polygon points="1003,556 1003,573 988,564.5" fill="none" stroke="#a24343" stroke-width="2" stroke-linejoin="miter"/>
<polygon points="972,588 972,605 957,596.5" fill="none" stroke="#a24343" stroke-width="2" stroke-linejoin="miter"/>
<polyline points="916,119 932,135 916,151" fill="none" stroke="#a24343" stroke-width="2" stroke-linejoin="miter"/>
<line x1="932" y1="135" x2="964" y2="135" stroke="#a24343" stroke-width="2" />
<polyline points="765.2,250.0 773.5,260.5 781.8,250.0" fill="none" stroke="#a24343" stroke-width="2" stroke-linejoin="miter"/>
<polygon points="1163,365 1163,382 1177,373.5" fill="none" stroke="#a24343" stroke-width="2" stroke-linejoin="miter"/>
<polyline points="1174.5,317.2 1185.0,325.5 1174.5,333.8" fill="none" stroke="#a24343" stroke-width="2" stroke-linejoin="miter"/>
<polyline points="1230.5,317.2 1220.0,325.5 1230.5,333.8" fill="none" stroke="#a24343" stroke-width="2" stroke-linejoin="miter"/>
</g>
<g shape-rendering="crispEdges">
<path d="M183,227h3v1h1v1h1v3h-1v1h-1v1h-3v-1h-1v-1h-1v-3h1v-1h1z" fill="#4ba54b"/>
<path d="M135,338h3v1h1v1h1v3h-1v1h-1v1h-3v-1h-1v-1h-1v-3h1v-1h1z" fill="#4ba54b"/>
<path d="M135,370h3v1h1v1h1v3h-1v1h-1v1h-3v-1h-1v-1h-1v-3h1v-1h1z" fill="#4ba54b"/>
<path d="M135,418h3v1h1v1h1v3h-1v1h-1v1h-3v-1h-1v-1h-1v-3h1v-1h1z" fill="#4ba54b"/>
<path d="M167,418h3v1h1v1h1v3h-1v1h-1v1h-3v-1h-1v-1h-1v-3h1v-1h1z" fill="#4ba54b"/>
<path d="M40,322h3v1h1v1h1v3h-1v1h-1v1h-3v-1h-1v-1h-1v-3h1v-1h1z" fill="#4ba54b"/>
<path d="M40,386h3v1h1v1h1v3h-1v1h-1v1h-3v-1h-1v-1h-1v-3h1v-1h1z" fill="#4ba54b"/>
<path d="M40,418h3v1h1v1h1v3h-1v1h-1v1h-3v-1h-1v-1h-1v-3h1v-1h1z" fill="#4ba54b"/>
<path d="M40,593h3v1h1v1h1v3h-1v1h-1v1h-3v-1h-1v-1h-1v-3h1v-1h1z" fill="#4ba54b"/>
<path d="M119,593h3v1h1v1h1v3h-1v1h-1v1h-3v-1h-1v-1h-1v-3h1v-1h1z" fill="#4ba54b"/>
<path d="M167,593h3v1h1v1h1v3h-1v1h-1v1h-3v-1h-1v-1h-1v-3h1v-1h1z" fill="#4ba54b"/>
<path d="M613,36h3v1h1v1h1v3h-1v1h-1v1h-3v-1h-1v-1h-1v-3h1v-1h1z" fill="#4ba54b"/>
<path d="M692,36h3v1h1v1h1v3h-1v1h-1v1h-3v-1h-1v-1h-1v-3h1v-1h1z" fill="#4ba54b"/>
<path d="M772,36h3v1h1v1h1v3h-1v1h-1v1h-3v-1h-1v-1h-1v-3h1v-1h1z" fill="#4ba54b"/>
<path d="M628,577h3v1h1v1h1v3h-1v1h-1v1h-3v-1h-1v-1h-1v-3h1v-1h1z" fill="#4ba54b"/>
<path d="M613,608h3v1h1v1h1v3h-1v1h-1v1h-3v-1h-1v-1h-1v-3h1v-1h1z" fill="#4ba54b"/>
<path d="M644,593h3v1h1v1h1v3h-1v1h-1v1h-3v-1h-1v-1h-1v-3h1v-1h1z" fill="#4ba54b"/>
<path d="M835,561h3v1h1v1h1v3h-1v1h-1v1h-3v-1h-1v-1h-1v-3h1v-1h1z" fill="#4ba54b"/>
<path d="M851,593h3v1h1v1h1v3h-1v1h-1v1h-3v-1h-1v-1h-1v-3h1v-1h1z" fill="#4ba54b"/>
<path d="M1090,179h3v1h1v1h1v3h-1v1h-1v1h-3v-1h-1v-1h-1v-3h1v-1h1z" fill="#4ba54b"/>
<path d="M1090,211h3v1h1v1h1v3h-1v1h-1v1h-3v-1h-1v-1h-1v-3h1v-1h1z" fill="#4ba54b"/>
<path d="M1090,497h3v1h1v1h1v3h-1v1h-1v1h-3v-1h-1v-1h-1v-3h1v-1h1z" fill="#4ba54b"/>
<path d="M1090,529h3v1h1v1h1v3h-1v1h-1v1h-3v-1h-1v-1h-1v-3h1v-1h1z" fill="#4ba54b"/>
<path d="M1090,561h3v1h1v1h1v3h-1v1h-1v1h-3v-1h-1v-1h-1v-3h1v-1h1z" fill="#4ba54b"/>
<path d="M1090,593h3v1h1v1h1v3h-1v1h-1v1h-3v-1h-1v-1h-1v-3h1v-1h1z" fill="#4ba54b"/>
<path d="M1090,672h3v1h1v1h1v3h-1v1h-1v1h-3v-1h-1v-1h-1v-3h1v-1h1z" fill="#4ba54b"/>
<path d="M1042,370h3v1h1v1h1v3h-1v1h-1v1h-3v-1h-1v-1h-1v-3h1v-1h1z" fill="#4ba54b"/>
<path d="M1138,370h3v1h1v1h1v3h-1v1h-1v1h-3v-1h-1v-1h-1v-3h1v-1h1z" fill="#4ba54b"/>
<path d="M1265,370h3v1h1v1h1v3h-1v1h-1v1h-3v-1h-1v-1h-1v-3h1v-1h1z" fill="#4ba54b"/>
<path d="M1010,481h3v1h1v1h1v3h-1v1h-1v1h-3v-1h-1v-1h-1v-3h1v-1h1z" fill="#4ba54b"/>
<path d="M1010,529h3v1h1v1h1v3h-1v1h-1v1h-3v-1h-1v-1h-1v-3h1v-1h1z" fill="#4ba54b"/>
<path d="M1138,179h3v1h1v1h1v3h-1v1h-1v1h-3v-1h-1v-1h-1v-3h1v-1h1z" fill="#4ba54b"/>
<path d="M1138,259h3v1h1v1h1v3h-1v1h-1v1h-3v-1h-1v-1h-1v-3h1v-1h1z" fill="#4ba54b"/>
<path d="M1138,322h3v1h1v1h1v3h-1v1h-1v1h-3v-1h-1v-1h-1v-3h1v-1h1z" fill="#4ba54b"/>
<path d="M1201,179h3v1h1v1h1v3h-1v1h-1v1h-3v-1h-1v-1h-1v-3h1v-1h1z" fill="#4ba54b"/>
<path d="M1265,322h3v1h1v1h1v3h-1v1h-1v1h-3v-1h-1v-1h-1v-3h1v-1h1z" fill="#4ba54b"/>
</g>
<defs><filter id="alias" filterUnits="userSpaceOnUse" x="0" y="0" width="1375" height="863"><feComponentTransfer><feFuncA type="discrete" tableValues="0 0 0 0 0.55 0.55 1 1 1 1"/></feComponentTransfer></filter></defs>
<g filter="url(#alias)">
<text x="87.6" y="189.8" font-size="15.5" fill="#979797" textLength="16.9" lengthAdjust="spacingAndGlyphs">S1</text>
<text x="124.3" y="205.6" font-size="15.5" fill="#979797" textLength="31.0" lengthAdjust="spacingAndGlyphs">RES</text>
<text x="79" y="227.8" font-size="14" fill="#979797" textLength="7.0" lengthAdjust="spacingAndGlyphs">3</text>
<text x="79" y="243.8" font-size="14" fill="#979797" textLength="7.0" lengthAdjust="spacingAndGlyphs">4</text>
<text x="121.5" y="227.8" font-size="14" fill="#979797" textLength="7.0" lengthAdjust="spacingAndGlyphs">1</text>
<text x="121.5" y="243.8" font-size="14" fill="#979797" textLength="7.0" lengthAdjust="spacingAndGlyphs">2</text>
<text x="214.8" y="224" font-size="15.5" fill="#979797" textLength="21.5" lengthAdjust="spacingAndGlyphs">IC1</text>
<text x="215.5" y="642.6" font-size="15.5" fill="#979797" textLength="90.5" lengthAdjust="spacingAndGlyphs">MEGA168/328</text>
<text x="230.5" y="251" font-size="14.5" fill="#979797" textLength="133.5" lengthAdjust="spacingAndGlyphs">PC6(/RESET/PCINT14)</text>
<text x="201.5" y="244" font-size="14" fill="#979797" text-anchor="end" textLength="7.0" lengthAdjust="spacingAndGlyphs">1</text>
<text x="230.5" y="346" font-size="14.5" fill="#979797" textLength="161.6" lengthAdjust="spacingAndGlyphs">PB6(XTAL1/TOSC1/PCINT6)</text>
<text x="201.5" y="339" font-size="14" fill="#979797" text-anchor="end" textLength="7.0" lengthAdjust="spacingAndGlyphs">9</text>
<text x="230.5" y="378" font-size="14.5" fill="#979797" textLength="161.6" lengthAdjust="spacingAndGlyphs">PB7(XTAL2/TOSC2/PCINT7)</text>
<text x="201.5" y="371" font-size="14" fill="#979797" text-anchor="end" textLength="14.0" lengthAdjust="spacingAndGlyphs">10</text>
<text x="230.5" y="426" font-size="14.5" fill="#979797" textLength="26.7" lengthAdjust="spacingAndGlyphs">VCC</text>
<text x="201.5" y="419" font-size="14" fill="#979797" text-anchor="end" textLength="7.0" lengthAdjust="spacingAndGlyphs">7</text>
<text x="230.5" y="473" font-size="14.5" fill="#979797" textLength="34.3" lengthAdjust="spacingAndGlyphs">AVCC</text>
<text x="201.5" y="466" font-size="14" fill="#979797" text-anchor="end" textLength="14.0" lengthAdjust="spacingAndGlyphs">20</text>
<text x="230.5" y="489" font-size="14.5" fill="#979797" textLength="34.0" lengthAdjust="spacingAndGlyphs">AREF</text>
<text x="201.5" y="482" font-size="14" fill="#979797" text-anchor="end" textLength="14.0" lengthAdjust="spacingAndGlyphs">21</text>
<text x="230.5" y="569" font-size="14.5" fill="#979797" textLength="36.4" lengthAdjust="spacingAndGlyphs">AGND</text>
<text x="201.5" y="562" font-size="14" fill="#979797" text-anchor="end" textLength="14.0" lengthAdjust="spacingAndGlyphs">22</text>
<text x="230.5" y="601" font-size="14.5" fill="#979797" textLength="27.4" lengthAdjust="spacingAndGlyphs">GND</text>
<text x="201.5" y="594" font-size="14" fill="#979797" text-anchor="end" textLength="7.0" lengthAdjust="spacingAndGlyphs">8</text>
<text x="518.3" y="251" font-size="14.5" fill="#979797" text-anchor="end" textLength="113.8" lengthAdjust="spacingAndGlyphs">PC0(ADC0/PCINT8)</text>
<text x="547.5" y="244" font-size="14" fill="#979797" textLength="14.0" lengthAdjust="spacingAndGlyphs">23</text>
<text x="518.3" y="267" font-size="14.5" fill="#979797" text-anchor="end" textLength="113.8" lengthAdjust="spacingAndGlyphs">PC1(ADC1/PCINT9)</text>
<text x="547.5" y="260" font-size="14" fill="#979797" textLength="14.0" lengthAdjust="spacingAndGlyphs">24</text>
<text x="518.3" y="283" font-size="14.5" fill="#979797" text-anchor="end" textLength="120.7" lengthAdjust="spacingAndGlyphs">PC2(ADC2/PCINT10)</text>
<text x="547.5" y="276" font-size="14" fill="#979797" textLength="14.0" lengthAdjust="spacingAndGlyphs">25</text>
<text x="518.3" y="299" font-size="14.5" fill="#979797" text-anchor="end" textLength="119.9" lengthAdjust="spacingAndGlyphs">PC3(ADC3/PCINT11)</text>
<text x="547.5" y="292" font-size="14" fill="#979797" textLength="14.0" lengthAdjust="spacingAndGlyphs">26</text>
<text x="518.3" y="314" font-size="14.5" fill="#979797" text-anchor="end" textLength="151.8" lengthAdjust="spacingAndGlyphs">PC4(ADC4/SDA/PCINT12)</text>
<text x="547.5" y="307" font-size="14" fill="#979797" textLength="14.0" lengthAdjust="spacingAndGlyphs">27</text>
<text x="518.3" y="330" font-size="14.5" fill="#979797" text-anchor="end" textLength="145.5" lengthAdjust="spacingAndGlyphs">PC5(ADC5/SCLPCINT13)</text>
<text x="547.5" y="323" font-size="14" fill="#979797" textLength="14.0" lengthAdjust="spacingAndGlyphs">28</text>
<text x="518.3" y="394" font-size="14.5" fill="#979797" text-anchor="end" textLength="111.7" lengthAdjust="spacingAndGlyphs">PD0(RXD/PCINT16)</text>
<text x="547.5" y="387" font-size="14" fill="#979797" textLength="7.0" lengthAdjust="spacingAndGlyphs">2</text>
<text x="518.3" y="410" font-size="14.5" fill="#979797" text-anchor="end" textLength="109.8" lengthAdjust="spacingAndGlyphs">PD1(TXD/PCINT17)</text>
<text x="547.5" y="403" font-size="14" fill="#979797" textLength="7.0" lengthAdjust="spacingAndGlyphs">3</text>
<text x="518.3" y="426" font-size="14.5" fill="#979797" text-anchor="end" textLength="112.8" lengthAdjust="spacingAndGlyphs">PD2(INT0/PCINT18)</text>
<text x="547.5" y="419" font-size="14" fill="#979797" textLength="7.0" lengthAdjust="spacingAndGlyphs">4</text>
<text x="518.3" y="442" font-size="14.5" fill="#979797" text-anchor="end" textLength="151.7" lengthAdjust="spacingAndGlyphs">PD3(INT1/OC2B/PCINT19)</text>
<text x="547.5" y="435" font-size="14" fill="#979797" textLength="7.0" lengthAdjust="spacingAndGlyphs">5</text>
<text x="518.3" y="458" font-size="14.5" fill="#979797" text-anchor="end" textLength="129.8" lengthAdjust="spacingAndGlyphs">PD4(T0/XCK/PCINT20)</text>
<text x="547.5" y="451" font-size="14" fill="#979797" textLength="7.0" lengthAdjust="spacingAndGlyphs">6</text>
<text x="518.3" y="473" font-size="14.5" fill="#979797" text-anchor="end" textLength="139.6" lengthAdjust="spacingAndGlyphs">PD5(T1/OC0B/PCINT21)</text>
<text x="547.5" y="466" font-size="14" fill="#979797" textLength="13.1" lengthAdjust="spacingAndGlyphs">11</text>
<text x="518.3" y="489" font-size="14.5" fill="#979797" text-anchor="end" textLength="153.5" lengthAdjust="spacingAndGlyphs">PD6(AIN0/OC0A/PCINT22)</text>
<text x="547.5" y="482" font-size="14" fill="#979797" textLength="14.0" lengthAdjust="spacingAndGlyphs">12</text>
<text x="518.3" y="505" font-size="14.5" fill="#979797" text-anchor="end" textLength="114.4" lengthAdjust="spacingAndGlyphs">PD7(AIN1/PCINT23)</text>
<text x="547.5" y="498" font-size="14" fill="#979797" textLength="14.0" lengthAdjust="spacingAndGlyphs">13</text>
<text x="518.3" y="537" font-size="14.5" fill="#979797" text-anchor="end" textLength="146.6" lengthAdjust="spacingAndGlyphs">PB0(ICP1/CLKO/PCINT0)</text>
<text x="547.5" y="530" font-size="14" fill="#979797" textLength="14.0" lengthAdjust="spacingAndGlyphs">14</text>
<text x="518.3" y="553" font-size="14.5" fill="#979797" text-anchor="end" textLength="114.7" lengthAdjust="spacingAndGlyphs">PB1(OC1A/PCINT1)</text>
<text x="547.5" y="546" font-size="14" fill="#979797" textLength="14.0" lengthAdjust="spacingAndGlyphs">15</text>
<text x="518.3" y="569" font-size="14.5" fill="#979797" text-anchor="end" textLength="136.8" lengthAdjust="spacingAndGlyphs">PB2(SS/OC1B/PCINT2)</text>
<text x="547.5" y="562" font-size="14" fill="#979797" textLength="14.0" lengthAdjust="spacingAndGlyphs">16</text>
<text x="518.3" y="585" font-size="14.5" fill="#979797" text-anchor="end" textLength="151.8" lengthAdjust="spacingAndGlyphs">PB3(MOSI/OC2A/PCINT3)</text>
<text x="547.5" y="578" font-size="14" fill="#979797" textLength="14.0" lengthAdjust="spacingAndGlyphs">17</text>
<text x="518.3" y="601" font-size="14.5" fill="#979797" text-anchor="end" textLength="112.5" lengthAdjust="spacingAndGlyphs">PB4(MISO/PCINT4)</text>
<text x="547.5" y="594" font-size="14" fill="#979797" textLength="14.0" lengthAdjust="spacingAndGlyphs">18</text>
<text x="518.3" y="616" font-size="14.5" fill="#979797" text-anchor="end" textLength="106.7" lengthAdjust="spacingAndGlyphs">PB5(SCK/PCINT5)</text>
<text x="547.5" y="609" font-size="14" fill="#979797" textLength="14.0" lengthAdjust="spacingAndGlyphs">19</text>
<text x="24.4" y="642.6" font-size="15.5" fill="#979797" textLength="31.0" lengthAdjust="spacingAndGlyphs">GND</text>
<text x="69.5" y="315" font-size="15.5" fill="#979797" transform="rotate(-90 69.5 315)" textLength="17.6" lengthAdjust="spacingAndGlyphs">C1</text>
<text x="100.6" y="316" font-size="15.5" fill="#979797" transform="rotate(-90 100.6 316)" textLength="23.0" lengthAdjust="spacingAndGlyphs">22p</text>
<text x="128.2" y="340" font-size="15.5" fill="#979797" transform="rotate(-90 128.2 340)" textLength="18.4" lengthAdjust="spacingAndGlyphs">Q1</text>
<text x="152" y="341" font-size="15.5" fill="#979797" transform="rotate(-90 152 341)" textLength="43.7" lengthAdjust="spacingAndGlyphs">20MHz</text>
<text x="69.5" y="377.7" font-size="15.5" fill="#979797" transform="rotate(-90 69.5 377.7)" textLength="17.6" lengthAdjust="spacingAndGlyphs">C2</text>
<text x="100.6" y="378.5" font-size="15.5" fill="#979797" transform="rotate(-90 100.6 378.5)" textLength="23.0" lengthAdjust="spacingAndGlyphs">22p</text>
<text x="69.8" y="450.6" font-size="15.5" fill="#979797" transform="rotate(-90 69.8 450.6)" textLength="23.3" lengthAdjust="spacingAndGlyphs">10µ</text>
<text x="101.3" y="446" font-size="15.5" fill="#979797" transform="rotate(-90 101.3 446)" textLength="17.6" lengthAdjust="spacingAndGlyphs">C6</text>
<text x="162.6" y="446.5" font-size="15.5" fill="#979797" transform="rotate(-90 162.6 446.5)" textLength="24.9" lengthAdjust="spacingAndGlyphs">+5V</text>
<text x="79" y="513.8" font-size="15.5" fill="#979797" textLength="30.7" lengthAdjust="spacingAndGlyphs">220n</text>
<text x="92" y="544.5" font-size="15.5" fill="#979797" textLength="17.6" lengthAdjust="spacingAndGlyphs">C4</text>
<text x="566" y="86.6" font-size="15.5" fill="#979797" textLength="31.0" lengthAdjust="spacingAndGlyphs">GND</text>
<text x="772.7" y="22.6" font-size="15.5" fill="#979797" textLength="24.9" lengthAdjust="spacingAndGlyphs">+5V</text>
<text x="621.5" y="29.6" font-size="15.5" fill="#979797" textLength="17.6" lengthAdjust="spacingAndGlyphs">R2</text>
<text x="622" y="60" font-size="15.5" fill="#979797" textLength="29.9" lengthAdjust="spacingAndGlyphs">150k</text>
<text x="717" y="29.6" font-size="15.5" fill="#979797" textLength="17.6" lengthAdjust="spacingAndGlyphs">R3</text>
<text x="717" y="60" font-size="15.5" fill="#979797" textLength="29.9" lengthAdjust="spacingAndGlyphs">330k</text>
<text x="686.5" y="164" font-size="14" fill="#979797" textLength="7.0" lengthAdjust="spacingAndGlyphs">1</text>
<text x="686.5" y="180" font-size="14" fill="#979797" textLength="7.0" lengthAdjust="spacingAndGlyphs">2</text>
<text x="686.5" y="196" font-size="14" fill="#979797" textLength="7.0" lengthAdjust="spacingAndGlyphs">3</text>
<text x="686.5" y="212" font-size="14" fill="#979797" textLength="7.0" lengthAdjust="spacingAndGlyphs">4</text>
<text x="686.5" y="228" font-size="14" fill="#979797" textLength="7.0" lengthAdjust="spacingAndGlyphs">5</text>
<text x="668.7" y="146" font-size="15.5" fill="#979797" textLength="31.4" lengthAdjust="spacingAndGlyphs">JP12</text>
<text x="669.8" y="261.5" font-size="15.5" fill="#979797" textLength="65.5" lengthAdjust="spacingAndGlyphs">FEATURE</text>
<text x="668.9" y="273.4" font-size="15.5" fill="#979797" textLength="23.8" lengthAdjust="spacingAndGlyphs">JP6</text>
<text x="668.9" y="290" font-size="15.5" fill="#979797" textLength="23.8" lengthAdjust="spacingAndGlyphs">JP7</text>
<text x="668.9" y="305" font-size="15.5" fill="#979797" textLength="23.8" lengthAdjust="spacingAndGlyphs">JP8</text>
<text x="668.9" y="321" font-size="15.5" fill="#979797" textLength="23.8" lengthAdjust="spacingAndGlyphs">JP9</text>
<text x="668.9" y="336.4" font-size="15.5" fill="#979797" textLength="31.4" lengthAdjust="spacingAndGlyphs">JP10</text>
<text x="686.3" y="290.5" font-size="14" fill="#979797" textLength="7.0" lengthAdjust="spacingAndGlyphs">1</text>
<text x="686.3" y="306.3" font-size="14" fill="#979797" textLength="7.0" lengthAdjust="spacingAndGlyphs">1</text>
<text x="686.3" y="322.5" font-size="14" fill="#979797" textLength="7.0" lengthAdjust="spacingAndGlyphs">1</text>
<text x="686.3" y="338.7" font-size="14" fill="#979797" textLength="7.0" lengthAdjust="spacingAndGlyphs">1</text>
<text x="686.3" y="354.4" font-size="14" fill="#979797" textLength="7.0" lengthAdjust="spacingAndGlyphs">1</text>
<text x="876.6" y="490.3" font-size="15.5" fill="#979797" textLength="17.6" lengthAdjust="spacingAndGlyphs">R1</text>
<text x="877.8" y="520" font-size="15.5" fill="#979797" textLength="24.5" lengthAdjust="spacingAndGlyphs">1K5</text>
<text x="962.6" y="474.5" font-size="15.5" fill="#979797" textLength="28.4" lengthAdjust="spacingAndGlyphs">2mA</text>
<text x="955.1" y="488.5" font-size="15.5" fill="#979797" textLength="34.5" lengthAdjust="spacingAndGlyphs">LED1</text>
<text x="685.6" y="522.3" font-size="15.5" fill="#979797" textLength="17.6" lengthAdjust="spacingAndGlyphs">R4</text>
<text x="686.4" y="552.5" font-size="15.5" fill="#979797" textLength="14.6" lengthAdjust="spacingAndGlyphs">1k</text>
<text x="1041.7" y="521.2" font-size="15.5" fill="#979797" textLength="28.4" lengthAdjust="spacingAndGlyphs">3.3V</text>
<text x="1051.5" y="554.5" font-size="15.5" fill="#979797" textLength="17.6" lengthAdjust="spacingAndGlyphs">D2</text>
<text x="717" y="552.5" font-size="15.5" fill="#979797" textLength="17.6" lengthAdjust="spacingAndGlyphs">R5</text>
<text x="717.5" y="584" font-size="15.5" fill="#979797" textLength="14.6" lengthAdjust="spacingAndGlyphs">1k</text>
<text x="977.8" y="552" font-size="15.5" fill="#979797" textLength="28.4" lengthAdjust="spacingAndGlyphs">3.3V</text>
<text x="987.9" y="585.7" font-size="15.5" fill="#979797" textLength="17.6" lengthAdjust="spacingAndGlyphs">D3</text>
<text x="780.7" y="584.5" font-size="15.5" fill="#979797" textLength="17.6" lengthAdjust="spacingAndGlyphs">R6</text>
<text x="781.2" y="614.8" font-size="15.5" fill="#979797" textLength="14.6" lengthAdjust="spacingAndGlyphs">1k</text>
<text x="945.3" y="583.3" font-size="15.5" fill="#979797" textLength="28.4" lengthAdjust="spacingAndGlyphs">3.3V</text>
<text x="955.7" y="617.8" font-size="15.5" fill="#979797" textLength="17.6" lengthAdjust="spacingAndGlyphs">D4</text>
<text x="795" y="672.6" font-size="14" fill="#979797" textLength="7.0" lengthAdjust="spacingAndGlyphs">3</text>
<text x="838" y="672.6" font-size="14" fill="#979797" textLength="7.0" lengthAdjust="spacingAndGlyphs">6</text>
<text x="795" y="688.6" font-size="14" fill="#979797" textLength="7.0" lengthAdjust="spacingAndGlyphs">4</text>
<text x="838" y="688.6" font-size="14" fill="#979797" textLength="7.0" lengthAdjust="spacingAndGlyphs">5</text>
<text x="795.5" y="704.6" font-size="14" fill="#979797" textLength="7.0" lengthAdjust="spacingAndGlyphs">1</text>
<text x="838" y="704.6" font-size="14" fill="#979797" textLength="7.0" lengthAdjust="spacingAndGlyphs">2</text>
<text x="805.2" y="649.8" font-size="14.5" fill="#a24343" textLength="53.8" lengthAdjust="spacingAndGlyphs">AVR ISP</text>
<text x="772.6" y="685.9" font-size="9.3" fill="#a24343" stroke="#a24343" stroke-width="0.3" text-anchor="end" textLength="21.4" lengthAdjust="spacing">SCK</text>
<text x="772.6" y="701.9" font-size="9.3" fill="#a24343" stroke="#a24343" stroke-width="0.3" text-anchor="end" textLength="26.6" lengthAdjust="spacing">MOSI</text>
<text x="772.6" y="717.9" font-size="9.3" fill="#a24343" stroke="#a24343" stroke-width="0.3" text-anchor="end" textLength="26.6" lengthAdjust="spacing">MISO</text>
<text x="869.8" y="685.9" font-size="9.3" fill="#a24343" stroke="#a24343" stroke-width="0.3" textLength="21.4" lengthAdjust="spacing">GND</text>
<text x="870.6" y="701.9" font-size="9.3" fill="#a24343" stroke="#a24343" stroke-width="0.3" textLength="20" lengthAdjust="spacing">RST</text>
<text x="869.8" y="717.9" font-size="9.3" fill="#a24343" stroke="#a24343" stroke-width="0.3" textLength="21.4" lengthAdjust="spacing">VTG</text>
<text x="835" y="741.4" font-size="15.5" fill="#979797" textLength="23.8" lengthAdjust="spacingAndGlyphs">JP1</text>
<text x="1074.5" y="705.9" font-size="15.5" fill="#979797" textLength="31.0" lengthAdjust="spacingAndGlyphs">GND</text>
<text x="834" y="72" font-size="14" fill="#979797" transform="rotate(-90 834 72)" textLength="7.0" lengthAdjust="spacingAndGlyphs">8</text>
<text x="841.6" y="125.7" font-size="14.5" fill="#979797" transform="rotate(-90 841.6 125.7)" textLength="24.9" lengthAdjust="spacingAndGlyphs">ANT</text>
<text x="790" y="196" font-size="14" fill="#979797" text-anchor="end" textLength="7.0" lengthAdjust="spacingAndGlyphs">9</text>
<text x="819.3" y="202.7" font-size="14.5" fill="#979797" textLength="26.3" lengthAdjust="spacingAndGlyphs">VDD</text>
<text x="798.5" y="262.6" font-size="15.5" fill="#979797" transform="rotate(-90 798.5 262.6)" textLength="32.6" lengthAdjust="spacingAndGlyphs">+3V3</text>
<text x="1056.3" y="180" font-size="14" fill="#979797" textLength="14.0" lengthAdjust="spacingAndGlyphs">10</text>
<text x="1056.3" y="212" font-size="14" fill="#979797" textLength="7.0" lengthAdjust="spacingAndGlyphs">7</text>
<text x="1027.2" y="186.4" font-size="14.5" fill="#979797" text-anchor="end" textLength="27.1" lengthAdjust="spacingAndGlyphs">GND</text>
<text x="1027.2" y="218.4" font-size="14.5" fill="#979797" text-anchor="end" textLength="27.1" lengthAdjust="spacingAndGlyphs">GND</text>
<text x="840.6" y="310" font-size="14.5" fill="#979797" transform="rotate(-90 840.6 310)" textLength="19.6" lengthAdjust="spacingAndGlyphs">SDI</text>
<text x="834" y="340.5" font-size="14" fill="#979797" text-anchor="end" transform="rotate(-90 834 340.5)" textLength="14.0" lengthAdjust="spacingAndGlyphs">12</text>
<text x="856.6" y="310" font-size="14.5" fill="#979797" transform="rotate(-90 856.6 310)" textLength="26.4" lengthAdjust="spacingAndGlyphs">SDO</text>
<text x="850" y="340.5" font-size="14" fill="#979797" text-anchor="end" transform="rotate(-90 850 340.5)" textLength="7.0" lengthAdjust="spacingAndGlyphs">1</text>
<text x="872.6" y="310" font-size="14.5" fill="#979797" transform="rotate(-90 872.6 310)" textLength="26.4" lengthAdjust="spacingAndGlyphs">SCK</text>
<text x="866" y="340.5" font-size="14" fill="#979797" text-anchor="end" transform="rotate(-90 866 340.5)" textLength="14.0" lengthAdjust="spacingAndGlyphs">13</text>
<text x="904.6" y="310" font-size="14.5" fill="#979797" transform="rotate(-90 904.6 310)" textLength="94.2" lengthAdjust="spacingAndGlyphs">DCLK/CFIL/FFIT</text>
<text x="898" y="340.5" font-size="14" fill="#979797" text-anchor="end" transform="rotate(-90 898 340.5)" textLength="7.0" lengthAdjust="spacingAndGlyphs">4</text>
<text x="920.6" y="310" font-size="14.5" fill="#979797" transform="rotate(-90 920.6 310)" textLength="33.9" lengthAdjust="spacingAndGlyphs">NRES</text>
<text x="914" y="340.5" font-size="14" fill="#979797" text-anchor="end" transform="rotate(-90 914 340.5)" textLength="7.0" lengthAdjust="spacingAndGlyphs">6</text>
<text x="936.6" y="310" font-size="14.5" fill="#979797" transform="rotate(-90 936.6 310)" textLength="24.1" lengthAdjust="spacingAndGlyphs">CLK</text>
<text x="930" y="340.5" font-size="14" fill="#979797" text-anchor="end" transform="rotate(-90 930 340.5)" textLength="7.0" lengthAdjust="spacingAndGlyphs">5</text>
<text x="952.6" y="310" font-size="14.5" fill="#979797" transform="rotate(-90 952.6 310)" textLength="29.4" lengthAdjust="spacingAndGlyphs">NIRQ</text>
<text x="946" y="340.5" font-size="14" fill="#979797" text-anchor="end" transform="rotate(-90 946 340.5)" textLength="7.0" lengthAdjust="spacingAndGlyphs">2</text>
<text x="984.6" y="310" font-size="14.5" fill="#979797" transform="rotate(-90 984.6 310)" textLength="98.2" lengthAdjust="spacingAndGlyphs">FSK/DATA/NFFS</text>
<text x="978" y="340.5" font-size="14" fill="#979797" text-anchor="end" transform="rotate(-90 978 340.5)" textLength="7.0" lengthAdjust="spacingAndGlyphs">3</text>
<text x="999.6" y="310" font-size="14.5" fill="#979797" transform="rotate(-90 999.6 310)" textLength="50.6" lengthAdjust="spacingAndGlyphs">NINT/VDI</text>
<text x="993" y="340.5" font-size="14" fill="#979797" text-anchor="end" transform="rotate(-90 993 340.5)" textLength="13.1" lengthAdjust="spacingAndGlyphs">11</text>
<text x="1015.6" y="310" font-size="14.5" fill="#979797" transform="rotate(-90 1015.6 310)" textLength="33.0" lengthAdjust="spacingAndGlyphs">NSEL</text>
<text x="1009" y="340.5" font-size="14" fill="#979797" text-anchor="end" transform="rotate(-90 1009 340.5)" textLength="14.0" lengthAdjust="spacingAndGlyphs">14</text>
<text x="803" y="325" font-size="10" fill="#979797" transform="rotate(-90 803 325)" textLength="14.0" lengthAdjust="spacingAndGlyphs">IC2</text>
<text x="1059" y="325" font-size="11.6" fill="#979797" transform="rotate(-90 1059 325)" textLength="31.8" lengthAdjust="spacingAndGlyphs">RFM12</text>
<text x="1186.8" y="369.1" font-size="15.5" fill="#979797" textLength="17.6" lengthAdjust="spacingAndGlyphs">D1</text>
<text x="1186.8" y="386.5" font-size="15.5" fill="#979797" textLength="100.5" lengthAdjust="spacingAndGlyphs">1N4148DO35-7</text>
<text x="1033.2" y="447.2" font-size="15.5" fill="#979797" transform="rotate(-90 1033.2 447.2)" textLength="19.2" lengthAdjust="spacingAndGlyphs">1M</text>
<text x="1062.3" y="455.2" font-size="15.5" fill="#979797" transform="rotate(-90 1062.3 455.2)" textLength="25.3" lengthAdjust="spacingAndGlyphs">R10</text>
<text x="860.1" y="35" font-size="15.5" fill="#979797" textLength="23.8" lengthAdjust="spacingAndGlyphs">JP2</text>
<text x="878.9" y="52.5" font-size="14" fill="#979797" textLength="7.0" lengthAdjust="spacingAndGlyphs">1</text>
<text x="860.1" y="86.7" font-size="15.5" fill="#979797" textLength="27.6" lengthAdjust="spacingAndGlyphs">ANT</text>
<text x="1108" y="211.6" font-size="15.5" fill="#979797" textLength="23.3" lengthAdjust="spacingAndGlyphs">10µ</text>
<text x="1129.2" y="209" font-size="15.5" fill="#979797" textLength="56.0" lengthAdjust="spacingAndGlyphs">LP2950Z</text>
<text x="1112.8" y="243.1" font-size="15.5" fill="#979797" textLength="17.6" lengthAdjust="spacingAndGlyphs">C5</text>
<text x="1200.6" y="205.4" font-size="14" fill="#979797" text-anchor="end" transform="rotate(-90 1200.6 205.4)" textLength="7.0" lengthAdjust="spacingAndGlyphs">2</text>
<text x="1168" y="260" font-size="14" fill="#979797" text-anchor="end" textLength="7.0" lengthAdjust="spacingAndGlyphs">1</text>
<text x="1236" y="259" font-size="14" fill="#979797" textLength="7.0" lengthAdjust="spacingAndGlyphs">3</text>
<text x="1187.3" y="231" font-size="14.5" fill="#979797" textLength="27.1" lengthAdjust="spacingAndGlyphs">GND</text>
<text x="1186" y="265.9" font-size="14.5" fill="#979797" textLength="9.8" lengthAdjust="spacingAndGlyphs">O</text>
<text x="1215.5" y="265.9" font-size="14.5" fill="#979797" textLength="3.5" lengthAdjust="spacingAndGlyphs">I</text>
<text x="1212.2" y="296.1" font-size="15.5" fill="#979797" textLength="21.5" lengthAdjust="spacingAndGlyphs">IC3</text>
<text x="1154.7" y="308.2" font-size="15.5" fill="#979797" textLength="32.6" lengthAdjust="spacingAndGlyphs">+3V3</text>
<text x="1225" y="351.3" font-size="15.5" fill="#979797" textLength="24.9" lengthAdjust="spacingAndGlyphs">+5V</text>
<text x="1307" y="339" font-size="14" fill="#979797" textLength="7.0" lengthAdjust="spacingAndGlyphs">1</text>
<text x="1307" y="355" font-size="14" fill="#979797" textLength="7.0" lengthAdjust="spacingAndGlyphs">2</text>
<text x="1307" y="371" font-size="14" fill="#979797" textLength="7.0" lengthAdjust="spacingAndGlyphs">3</text>
<text x="1307" y="387" font-size="14" fill="#979797" textLength="7.0" lengthAdjust="spacingAndGlyphs">4</text>
<text x="1307" y="403" font-size="14" fill="#979797" textLength="7.0" lengthAdjust="spacingAndGlyphs">5</text>
<text x="1307" y="419" font-size="14" fill="#979797" textLength="7.0" lengthAdjust="spacingAndGlyphs">6</text>
<text x="1286.5" y="319.5" font-size="15.5" fill="#979797" textLength="76.0" lengthAdjust="spacingAndGlyphs">FTDI Board</text>
<text x="1335.3" y="450.7" font-size="15.5" fill="#979797" textLength="24.5" lengthAdjust="spacingAndGlyphs">SL1</text>
<text x="756.8" y="785.6" font-size="33" fill="#979797" textLength="511.0" lengthAdjust="spacingAndGlyphs">smarthomatic Generic Maxi Speed 1</text>
<text x="757.5" y="817.5" font-size="18.6" fill="#979797" textLength="64.1" lengthAdjust="spacingAndGlyphs">Rev 1.0</text>
<text x="1108" y="817.7" font-size="18.75" fill="#979797" textLength="144.7" lengthAdjust="spacingAndGlyphs">Date: 08.05.2013</text>
<text x="757.5" y="849.6" font-size="18.75" fill="#979797" textLength="413.0" lengthAdjust="spacingAndGlyphs">Copyright (c) Uwe Freese, www.smarthomatic.org</text>
</g>
</svg>
</body></html>
